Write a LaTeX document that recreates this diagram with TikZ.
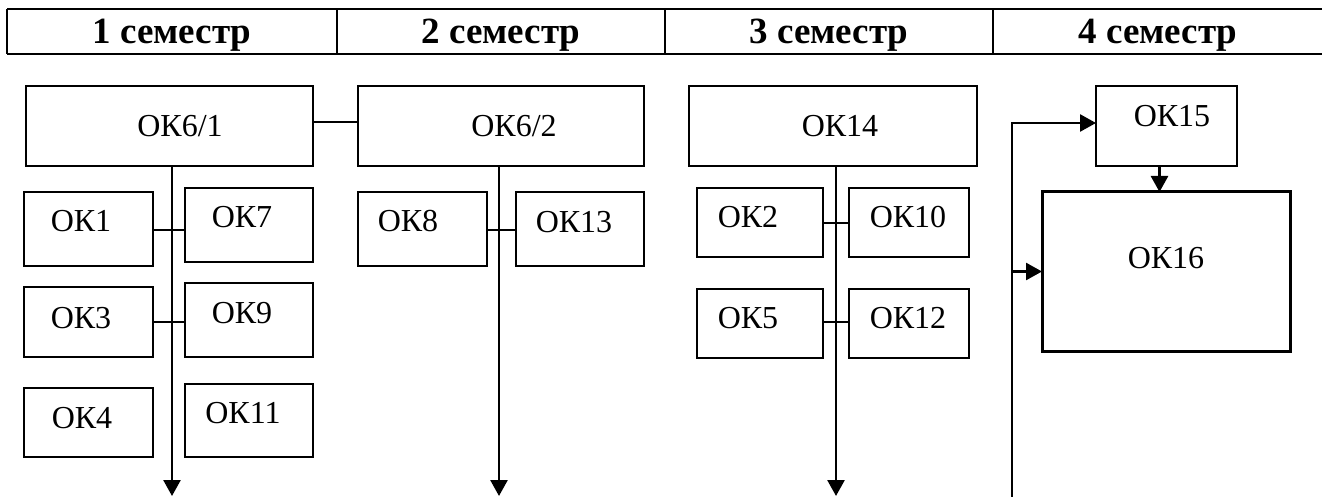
\documentclass[tikz,border=0pt]{standalone}
\usepackage{fontspec}
\setmainfont{Liberation Serif}
\usetikzlibrary{arrows.meta}
\newcommand\mkbox[6][]{%
  \node[okbox,#1,minimum width={#4-#2},minimum height={#5-#3}] (#6) at ({(#2+#4)/2},{(#3+#5)/2}) {};}
\begin{document}
\begin{tikzpicture}[x=1pt,y=-1pt,
  okbox/.style={draw,line width=2.1pt,inner sep=0pt,outer sep=0pt},
  thickbox/.style={line width=3pt},
  oktext/.style={font=\fontsize{32}{32}\selectfont,anchor=base,inner sep=0pt},
  hdrtext/.style={font=\fontsize{37}{37}\selectfont\bfseries,anchor=base,inner sep=0pt},
  hline/.style={line width=2.1pt},
  link/.style={line width=2pt},
  arr/.style={line width=2.6pt,-{Triangle[length=16pt,width=17pt]}}]
\useasboundingbox (0,0) rectangle (1322,497);
% header
\draw[hline] (7,9) -- (1322,9);
\draw[hline] (7,54) -- (1322,54);
\draw[hline] (7,9) -- (7,54);
\draw[hline] (337,9) -- (337,54);
\draw[hline] (665,9) -- (665,54);
\draw[hline] (993,9) -- (993,54);
\node[hdrtext] (h1) at (172,44) {1 семестр};
\node[hdrtext] (h2) at (501,44) {2 семестр};
\node[hdrtext] (h3) at (829,44) {3 семестр};
\node[hdrtext] (h4) at (1158,44) {4 семестр};
% boxes
\mkbox{26}{86}{313}{166}{ok61}
\mkbox{358}{86}{644}{166}{ok62}
\mkbox{689}{86}{977}{166}{ok14}
\mkbox{1096}{86}{1237}{166}{ok15}
\mkbox{24}{192}{153}{266}{ok1}
\mkbox{185}{188}{313}{262}{ok7}
\mkbox{24}{287}{153}{357}{ok3}
\mkbox{185}{283}{313}{357}{ok9}
\mkbox{24}{388}{153}{457}{ok4}
\mkbox{185}{384}{313}{457}{ok11}
\mkbox{358}{192}{487}{266}{ok8}
\mkbox{516}{192}{644}{266}{ok13}
\mkbox{697}{188}{823}{257}{ok2}
\mkbox{849}{188}{969}{257}{ok10}
\mkbox{697}{289}{823}{358}{ok5}
\mkbox{849}{289}{969}{358}{ok12}
\mkbox[thickbox]{1042}{192}{1290}{351}{ok16}
% texts
\node[oktext] (t61) at (180,137) {ОК6/1};
\node[oktext] (t62) at (514,137) {ОК6/2};
\node[oktext] (t14) at (840,137) {ОК14};
\node[oktext] (t15) at (1172,127) {ОК15};
\node[oktext] (t1) at (81,232) {ОК1};
\node[oktext] (t7) at (242,227) {ОК7};
\node[oktext] (t3) at (81,328) {ОК3};
\node[oktext] (t9) at (242,323) {ОК9};
\node[oktext] (t4) at (82,428) {ОК4};
\node[oktext] (t11) at (243,423) {ОК11};
\node[oktext] (t8) at (408,232) {ОК8};
\node[oktext] (t13) at (574,233) {ОК13};
\node[oktext] (t2) at (748,227) {ОК2};
\node[oktext] (t10) at (908,227) {ОК10};
\node[oktext] (t5) at (748,328) {ОК5};
\node[oktext] (t12) at (908,328) {ОК12};
\node[oktext] (t16) at (1166,268) {ОК16};
% connectors
\draw[link] ([yshift=4pt]ok61.east) -- ([yshift=4pt]ok62.west);
\coordinate (e1) at (172,496);
\coordinate (e2) at (499,496);
\coordinate (e3) at (836,496);
\coordinate (e4) at (1012,497);
\draw[arr] (ok61.south -| e1) -- (e1);
\draw[arr] (ok62.south -| e2) -- (e2);
\draw[arr] (ok14.south -| e3) -- (e3);
\draw[link] ([yshift=-1pt]ok1.east) -- ([yshift=-1pt]ok1.east -| ok7.west);
\draw[link] (ok3.east) -- (ok3.east -| ok9.west);
\draw[link] ([yshift=-1pt]ok8.east) -- ([yshift=-1pt]ok8.east -| ok13.west);
\draw[link] (ok2.east) -- (ok2.east -| ok10.west);
\draw[link] ([yshift=1.5pt]ok5.east) -- ([yshift=1.5pt]ok5.east -| ok12.west);
\draw[arr] (e4) |- ([yshift=3pt]ok15.west);
\draw[arr] (e4 |- ok16.west) -- (ok16.west);
\draw[arr] ([xshift=-7pt]ok15.south) -- ([xshift=-7pt]ok15.south |- ok16.north);
\end{tikzpicture}
\end{document}
